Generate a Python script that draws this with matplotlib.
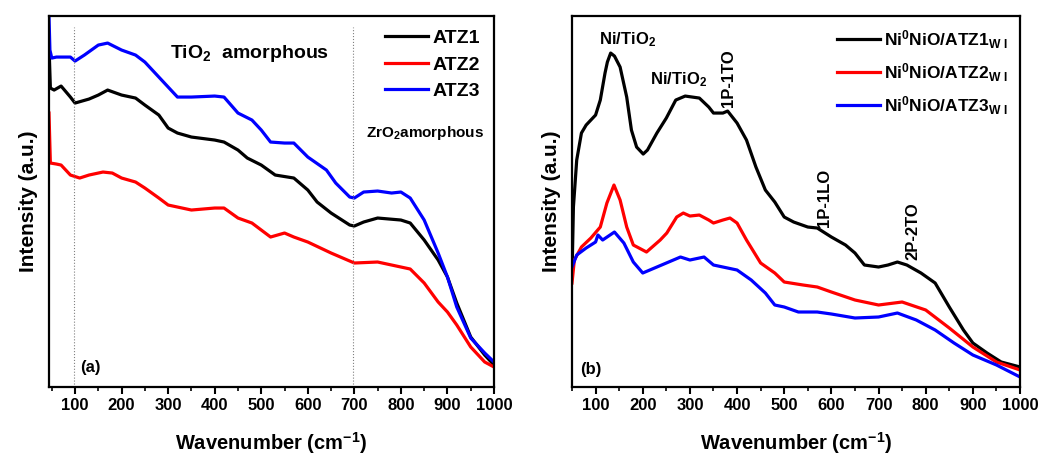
import matplotlib
matplotlib.use('Agg')
import matplotlib.pyplot as plt
from matplotlib.ticker import MultipleLocator

plt.rcParams['font.family'] = ['Liberation Sans', 'DejaVu Sans']
plt.rcParams['font.weight'] = 'bold'
plt.rcParams['mathtext.fontset'] = 'custom'
plt.rcParams['mathtext.rm'] = 'Liberation Sans:bold'
plt.rcParams['mathtext.bf'] = 'Liberation Sans:bold'
plt.rcParams['mathtext.default'] = 'bf'

# panel (a) - supports (arbitrary units)
wn_atz1 = [44, 47, 55, 70, 90, 100, 130, 150, 170, 200, 230, 250, 280, 300, 320, 350,
           400, 420, 450, 470, 500, 530, 570, 600, 620, 650, 690, 700, 720, 750, 800,
           820, 850, 880, 900, 920, 950, 980, 1000]
atz1 = [342, 299, 297, 301, 290, 284, 288, 292, 297, 292, 289, 282, 272, 259, 254, 250,
        247, 245, 237, 229, 222, 212, 209, 197, 185, 174, 162, 161, 165, 169, 167,
        164, 147, 127, 110, 84, 50, 32, 22]

wn_atz2 = [44, 47, 60, 70, 90, 110, 130, 160, 180, 200, 230, 250, 280, 300, 330, 350,
           400, 420, 450, 480, 500, 520, 550, 570, 600, 650, 700, 750, 800, 820, 850,
           880, 900, 920, 950, 980, 1000]
atz2 = [274, 224, 223, 222, 212, 209, 212, 215, 214, 209, 205, 199, 189, 182, 179, 177,
        179, 179, 169, 164, 157, 150, 154, 150, 145, 134, 124, 125, 120, 118, 104,
        85, 75, 62, 40, 25, 20]

wn_atz3 = [44, 46, 50, 60, 90, 100, 120, 150, 170, 200, 230, 250, 270, 300, 320, 350,
           400, 420, 450, 480, 500, 520, 550, 570, 600, 640, 660, 690, 700, 720, 750,
           780, 800, 820, 850, 880, 900, 920, 950, 980, 1000]
atz3 = [371, 337, 329, 330, 330, 326, 332, 342, 344, 337, 332, 325, 315, 300, 290, 290,
        291, 290, 274, 267, 257, 245, 244, 244, 230, 217, 204, 190, 189, 195, 196,
        194, 195, 189, 167, 134, 110, 80, 49, 34, 25]

# panel (b) - Ni0NiO / ATZ, WI
wn_b1 = [50, 53, 60, 70, 80, 100, 110, 120, 125, 132, 140, 152, 166, 176, 187, 201, 210,
         230, 250, 270, 290, 320, 340, 350, 370, 380, 400, 420, 440, 460, 480, 500, 520,
         550, 570, 600, 630, 650, 670, 700, 720, 740, 760, 790, 820, 850, 880, 900,
         930, 960, 1000]
b1 = [110, 180, 227, 254, 262, 272, 287, 314, 325, 334, 331, 320, 290, 257, 240, 233, 237,
      254, 269, 287, 291, 289, 280, 274, 274, 276, 264, 247, 220, 197, 185, 170, 165,
      160, 159, 150, 142, 134, 122, 120, 122, 125, 122, 114, 104, 80, 57, 44,
      34, 25, 20]

wn_b2 = [50, 55, 70, 90, 110, 124, 139, 152, 166, 180, 208, 237, 251, 272, 286, 300,
         320, 340, 350, 370, 385, 400, 420, 450, 480, 500, 540, 570, 600, 650, 700,
         750, 800, 850, 900, 950, 1000]
b2 = [104, 127, 140, 149, 160, 184, 202, 187, 160, 142, 135, 147, 154, 170, 174, 171,
      172, 167, 164, 167, 169, 164, 147, 124, 114, 105, 102, 100, 95, 87, 82,
      85, 77, 59, 40, 25, 17]

wn_b3 = [50, 60, 80, 100, 105, 115, 140, 160, 180, 200, 230, 250, 280, 300, 330, 350, 380,
         400, 430, 460, 480, 500, 530, 570, 600, 650, 700, 740, 780, 820, 860, 900,
         950, 1000]
b3 = [120, 132, 139, 145, 152, 147, 155, 144, 125, 114, 120, 124, 130, 127, 130, 122, 119,
      117, 107, 94, 82, 80, 75, 75, 73, 69, 70, 74, 67, 57, 44, 32,
      22, 10]

labels_a = ['ATZ1', 'ATZ2', 'ATZ3']
labels_b = ['Ni$^0$NiO/ATZ1$_{W\\ I}$', 'Ni$^0$NiO/ATZ2$_{W\\ I}$', 'Ni$^0$NiO/ATZ3$_{W\\ I}$']
colors = ['black', '#ff0000', '#0000ff']

fig = plt.figure(figsize=(10.4, 4.54), dpi=100)
axa = fig.add_axes([0.0471, 0.1476, 0.4279, 0.817])
axb = fig.add_axes([0.55, 0.1476, 0.4308, 0.817])

for x, y, c, l in zip([wn_atz1, wn_atz2, wn_atz3], [atz1, atz2, atz3], colors, labels_a):
    axa.plot(x, y, color=c, lw=2.3, label=l)
for x, y, c, l in zip([wn_b1, wn_b2, wn_b3], [b1, b2, b3], colors, labels_b):
    axb.plot(x, y, color=c, lw=2.3, label=l)

axa.axvline(97, ymax=0.97, color='grey', lw=0.8, ls=':')
axa.axvline(697, ymax=0.97, color='grey', lw=0.8, ls=':')

axa.set_xlim(44, 1000)
axb.set_xlim(50, 1000)
for ax in (axa, axb):
    ax.set_ylim(0, 371)
    ax.set_yticks([])
    ax.xaxis.set_major_locator(MultipleLocator(100))
    ax.xaxis.set_minor_locator(MultipleLocator(50))
    ax.tick_params(axis='x', which='major', direction='out', length=5, width=1.5,
                   labelsize=12, pad=3)
    ax.tick_params(axis='x', which='minor', direction='out', length=3, width=1.2)
    for s in ax.spines.values():
        s.set_linewidth(1.6)
    ax.set_xlabel('Wavenumber (cm$^{-1}$)', fontsize=14.5, fontweight='bold', labelpad=12)
    ax.set_ylabel('Intensity (a.u.)', fontsize=15, fontweight='bold', labelpad=8)
    for t in ax.get_xticklabels():
        t.set_fontweight('bold')

axa.legend(loc='upper right', bbox_to_anchor=(1.0, 1.0), frameon=False, fontsize=14,
           handlelength=2.2, handletextpad=0.25, labelspacing=0.45, borderaxespad=0.3)
axb.legend(loc='upper right', bbox_to_anchor=(1.0, 1.0), frameon=False, fontsize=12.5,
           handlelength=2.5, handletextpad=0.2, labelspacing=0.6, borderaxespad=0.3)

axa.text(474, 334, 'TiO$_2$  amorphous', fontsize=14, ha='center', va='center')
axa.text(852, 254, 'ZrO$_2$amorphous', fontsize=11, ha='center', va='center')
axa.text(111, 19, '(a)', fontsize=12, ha='left', va='center')

axb.text(167, 347, 'Ni/TiO$_2$', fontsize=12, ha='center', va='center')
axb.text(275, 307, 'Ni/TiO$_2$', fontsize=12, ha='center', va='center')
axb.text(381, 309, '1P-1TO', fontsize=12, rotation=90, ha='center', va='center')
axb.text(586, 189, '1P-1LO', fontsize=12, rotation=90, ha='center', va='center')
axb.text(773, 156, '2P-2TO', fontsize=12, rotation=90, ha='center', va='center')
axb.text(67, 17, '(b)', fontsize=12, ha='left', va='center')

fig.savefig('out.png', dpi=100)
